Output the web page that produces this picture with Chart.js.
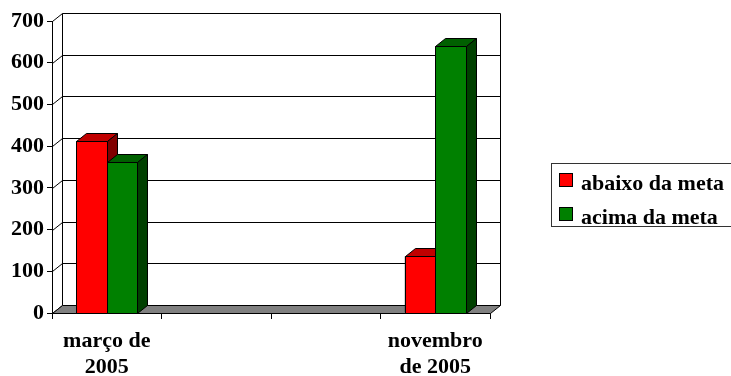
<!DOCTYPE html>
<html><head><meta charset="utf-8">
<script src="https://cdn.jsdelivr.net/npm/chart.js@4.4.1/dist/chart.umd.min.js"></script>
<style>html,body{margin:0;padding:0;background:#fff}#wrap{width:731px;height:376px;position:relative}</style>
</head><body><div id="wrap"><canvas id="c" width="731" height="376"></canvas></div>
<script>
// ---- data ----
const categories = [["março de", "2005"], "", "", ["novembro", "de 2005"]];
const seriesNames = ["abaixo da meta", "acima da meta"];
const abaixoDaMeta = [413, null, null, 136];
const acimaDaMeta = [361, null, null, 639];
const yTickValues = [0, 100, 200, 300, 400, 500, 600, 700];

// ---- styles ----
const faceColors = [
  { front: "#FF0000", top: "#C00000", side: "#800000" },
  { front: "#008000", top: "#006000", side: "#004000" }
];
const DX = 10, DY = -8;
const FONT_FAMILY = '"Liberation Serif","Times New Roman",serif';
const tickFont = { family: FONT_FAMILY, size: 22, weight: "bold", lineHeight: 1.2 };

function px(v) { return Math.round(v) + 0.5; }

const threeD = {
  id: "threeD",
  beforeDatasetsDraw(chart) {
    const { ctx, chartArea: a, scales: { y } } = chart;
    ctx.save();
    ctx.lineWidth = 1;
    ctx.strokeStyle = "#000";
    const y0 = px(y.getPixelForValue(0));
    const yTop = px(y.getPixelForValue(yTickValues[yTickValues.length - 1]));
    const L = px(a.left), R = px(a.right);
    // back wall grid lines + left wall diagonals
    yTickValues.forEach(v => {
      const p = px(y.getPixelForValue(v));
      ctx.beginPath();
      ctx.moveTo(L, p);
      ctx.lineTo(L + DX, p + DY);
      if (v > 0) ctx.lineTo(R + DX, p + DY);
      ctx.stroke();
    });
    // back verticals
    ctx.beginPath();
    ctx.moveTo(L + DX, yTop + DY); ctx.lineTo(L + DX, y0 + DY);
    ctx.moveTo(R + DX, yTop + DY); ctx.lineTo(R + DX, y0 + DY);
    ctx.stroke();
    // floor
    ctx.beginPath();
    ctx.moveTo(L, y0); ctx.lineTo(R, y0); ctx.lineTo(R + DX, y0 + DY); ctx.lineTo(L + DX, y0 + DY);
    ctx.closePath();
    ctx.fillStyle = "#808080";
    ctx.fill(); ctx.stroke();
    ctx.restore();
  },
  afterDatasetsDraw(chart) {
    const { ctx } = chart;
    ctx.save();
    ctx.lineWidth = 1;
    ctx.strokeStyle = "#000";
    const n = chart.data.labels.length;
    for (let i = 0; i < n; i++) {
      chart.data.datasets.forEach((ds, d) => {
        if (ds.data[i] == null) return;
        const el = chart.getDatasetMeta(d).data[i];
        const p = el.getProps(["x", "y", "base", "width"], true);
        const l = px(p.x - p.width / 2), r = px(p.x + p.width / 2);
        const t = px(p.y), b = px(p.base);
        const c = faceColors[d];
        // front
        ctx.fillStyle = c.front;
        ctx.beginPath(); ctx.rect(l, t, r - l, b - t); ctx.fill(); ctx.stroke();
        // top
        ctx.fillStyle = c.top;
        ctx.beginPath();
        ctx.moveTo(l, t); ctx.lineTo(r, t); ctx.lineTo(r + DX, t + DY); ctx.lineTo(l + DX, t + DY);
        ctx.closePath(); ctx.fill(); ctx.stroke();
        // side
        ctx.fillStyle = c.side;
        ctx.beginPath();
        ctx.moveTo(r, t); ctx.lineTo(r + DX, t + DY); ctx.lineTo(r + DX, b + DY); ctx.lineTo(r, b);
        ctx.closePath(); ctx.fill(); ctx.stroke();
      });
    }
    ctx.restore();
  },
  afterDraw(chart) {
    // legend
    const { ctx } = chart;
    ctx.save();
    ctx.lineWidth = 1;
    ctx.strokeStyle = "#333";
    ctx.strokeRect(551.5, 163.5, 220, 63);
    ctx.font = "bold 22px " + FONT_FAMILY;
    ctx.textBaseline = "alphabetic";
    ctx.textAlign = "left";
    chart.data.datasets.forEach((ds, d) => {
      const yy = 173.5 + d * 34;
      ctx.fillStyle = faceColors[d].front;
      ctx.fillRect(559.5, yy, 13, 13);
      ctx.strokeStyle = "#000";
      ctx.strokeRect(559.5, yy, 13, 13);
      ctx.fillStyle = "#000";
      ctx.fillText(ds.label, 581, yy + 16);
    });
    ctx.restore();
  }
};

new Chart(document.getElementById("c"), {
  type: "bar",
  data: {
    labels: categories,
    datasets: [
      { label: seriesNames[0], data: abaixoDaMeta, backgroundColor: faceColors[0].front, borderColor: "#000", borderWidth: 1 },
      { label: seriesNames[1], data: acimaDaMeta, backgroundColor: faceColors[1].front, borderColor: "#000", borderWidth: 1 }
    ]
  },
  options: {
    responsive: false,
    animation: false,
    devicePixelRatio: 1,
    layout: { padding: { top: 21, right: 241, bottom: 0, left: 0 } },
    datasets: { bar: { categoryPercentage: 0.56, barPercentage: 1.0 } },
    plugins: { legend: { display: false }, tooltip: { enabled: false } },
    scales: {
      x: {
        grid: { drawOnChartArea: false, drawTicks: true, tickLength: 6, color: "#000", offset: true },
        border: { display: true, color: "#000" },
        ticks: { font: tickFont, color: "#000", padding: 9, maxRotation: 0, autoSkip: false },
        afterFit: s => { s.height = 63; }
      },
      y: {
        min: 0, max: 700,
        afterBuildTicks: s => { s.ticks = yTickValues.map(v => ({ value: v })); },
        grid: { drawOnChartArea: false, drawTicks: true, tickLength: 5, color: "#000" },
        border: { display: true, color: "#000" },
        ticks: { font: tickFont, color: "#000", padding: 3 },
        afterFit: s => { s.width = 52; }
      }
    }
  },
  plugins: [threeD]
});
</script>
</body></html>
